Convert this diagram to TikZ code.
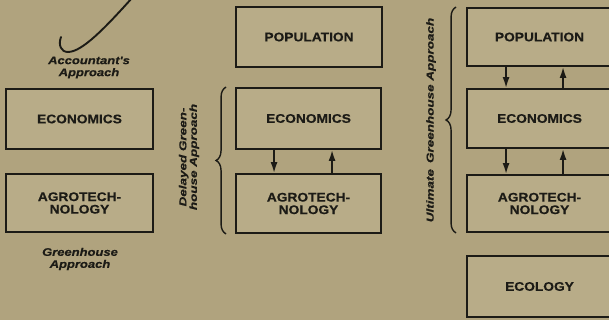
\documentclass[tikz,border=0pt]{standalone}
\usepackage{fontspec}
\setmainfont{Liberation Sans}
\newfontfamily\wf{Liberation Sans}[FakeStretch=1.1,FakeBold=0.6]
\newfontfamily\wh{Liberation Sans}[FakeStretch=1.18,FakeBold=0.5]
\newfontfamily\wg{Liberation Sans}[FakeStretch=1.32,FakeBold=0.5]
\usetikzlibrary{arrows.meta,decorations.pathreplacing}
\definecolor{bg}{RGB}{176,163,126}
\definecolor{bx}{RGB}{184,172,136}
\definecolor{ink}{RGB}{28,27,22}
\tikzset{
  box/.style={draw=ink, line width=1.9pt, fill=bx, text=ink, align=center,
    font=\wf\bfseries\fontsize{12.5}{12.5}\selectfont, inner sep=0pt},
  lab/.style={text=ink, align=center, font=\wh\bfseries\itshape\fontsize{11}{12}\selectfont},
  rlab/.style={text=ink, align=center, rotate=90, font=\wg\bfseries\itshape\fontsize{10.2}{9.5}\selectfont},
  arr/.style={draw=ink, line width=1.7pt, -{Latex[length=11pt,width=7pt]}},
  brc/.style={draw=ink, line width=1.4pt, decorate, decoration={brace, amplitude=10pt}},
}
\begin{document}
\begin{tikzpicture}[x=1pt,y=-1pt]
\useasboundingbox[fill=bg] (0,0) rectangle (609,320);
\begin{scope}
\clip (0,0) rectangle (609,320);
% left column
\node[box, minimum width=147pt, minimum height=60pt] (lE) at (79.5,119) {ECONOMICS};
\node[box, minimum width=147pt, minimum height=58pt] (lA) at (79.5,203) {AGROTECH-\\NOLOGY};
\node[lab] (lG) at (80,259) {Greenhouse\\Approach};
\node[lab] (lAc) at (89,67.5) {Accountant's\\Approach};
\draw[ink, line width=1.9pt, line cap=round] (132,-2) .. controls (105,28) and (82,52) .. (68,52)
  .. controls (61,52) and (58,45) .. (61,37);
% middle column
\node[box, minimum width=146pt, minimum height=60pt] (mP) at (309,37) {POPULATION};
\node[box, minimum width=145pt, minimum height=61pt] (mE) at (308.5,118.5) {ECONOMICS};
\node[box, minimum width=145pt, minimum height=59pt] (mA) at (308.5,203.5) {AGROTECH-\\NOLOGY};
\draw[arr] ([xshift=39pt]mE.south west) -- ([xshift=39pt]mA.north west);
\draw[arr] ([xshift=97pt]mA.north west) -- ([xshift=97pt]mE.south west);
\draw[brc] ([xshift=-9pt]mA.south west) -- ([xshift=-9pt]mE.north west);
\node[rlab] (mL) at (189,157) {Delayed Green-\\house Approach};
% right column
\node[box, minimum width=145pt, minimum height=58pt] (rP) at (539.5,37) {POPULATION};
\node[box, minimum width=145pt, minimum height=59pt] (rE) at (539.5,118.5) {ECONOMICS};
\node[box, minimum width=145pt, minimum height=57pt] (rA) at (539.5,203.5) {AGROTECH-\\NOLOGY};
\node[box, minimum width=145pt, minimum height=61pt] (rC) at (539.5,286.5) {ECOLOGY};
\draw[arr] ([xshift=40pt]rP.south west) -- ([xshift=40pt]rE.north west);
\draw[arr] ([xshift=97pt]rE.north west) -- ([xshift=97pt]rP.south west);
\draw[arr] ([xshift=40pt]rE.south west) -- ([xshift=40pt]rA.north west);
\draw[arr] ([xshift=97pt]rA.north west) -- ([xshift=97pt]rE.south west);
\draw[brc] ([xshift=-10pt]rA.south west) -- ([xshift=-10pt]rP.north west);
\node[rlab] (rL) at (431,120) {Ultimate\hspace{0.6em}Greenhouse Approach};
\end{scope}
\end{tikzpicture}
\end{document}
